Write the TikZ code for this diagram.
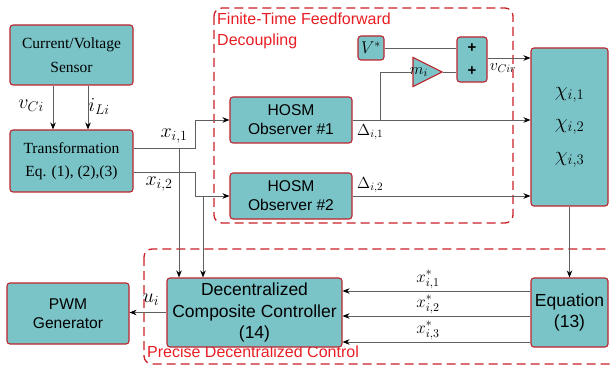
\RequirePackage{fix-cm}
\documentclass[tikz,border=0pt]{standalone}
\usepackage{amsmath, amssymb}
\usepackage{fontspec}
\setmainfont{Liberation Serif}
\setsansfont{Liberation Sans}
\usepackage{tikz}
\usetikzlibrary{shapes.geometric}
\usetikzlibrary{arrows.meta}

\definecolor{boxfill}{RGB}{122,196,200}
\definecolor{boxline}{RGB}{190,35,45}
\definecolor{framered}{RGB}{200,30,40}
\definecolor{textred}{RGB}{232,30,36}
\definecolor{wirecol}{RGB}{95,95,95}

\begin{document}
\begin{tikzpicture}[x=1pt, y=-1pt,
    blk/.style={draw=boxline, fill=boxfill, line width=1.1pt, rounded corners=3pt, inner sep=0pt, align=center},
    sf/.style={font=\sffamily\fontsize{15.6}{19}\selectfont},
    sfbig/.style={font=\sffamily\fontsize{17.5}{21.5}\selectfont},
    rm/.style={font=\fontsize{15.5}{23.5}\selectfont},
    wire/.style={draw=wirecol, line width=0.8pt},
    arr/.style={wire, -{Stealth[black, length=7pt, width=5.5pt]}},
    frame/.style={draw=framered, line width=1.3pt, dash pattern=on 9pt off 5pt, rounded corners=8pt},
    redtxt/.style={text=textred, font=\sffamily\fontsize{16}{21}\selectfont, inner sep=0pt, anchor=north west, align=left},
    lbl/.style={inner sep=0pt, font=\fontsize{20}{22}\selectfont},
    lblsm/.style={inner sep=0pt, font=\fontsize{16}{18}\selectfont},
    lblst/.style={inner sep=0pt, anchor=south, font=\fontsize{17}{19}\selectfont}]

    \clip (0,0) rectangle (610,366);

    % dashed groups
    \draw[frame] (214,8) rectangle (513,223);
    \draw[frame] (144,249) rectangle (640,364);
    \node[redtxt]  (tFF) at (217,13)   {Finite-Time Feedforward\\Decoupling};
    \node[redtxt]  (tPD) at (147,346)  {Precise Decentralized Control};

    \node[blk, rm, minimum width=123pt, minimum height=60pt]  (sensor) at (71.5, 55)   {Current/Voltage\\Sensor};
    \node[blk, rm, minimum width=123pt, minimum height=62pt]  (trans)  at (71.5, 161)  {Transformation\\Eq. (1), (2),(3)};
    \node[blk, sf, minimum width=122pt, minimum height=46pt]  (hosmA)  at (291, 120)   {HOSM\\Observer \#1};
    \node[blk, sf, minimum width=122pt, minimum height=46pt]  (hosmB)  at (291, 196)   {HOSM\\Observer \#2};
    \node[blk, font=\fontsize{17}{19}\selectfont, minimum width=26pt, minimum height=24pt]  (vstar)  at (371, 48)    {$V^{*}$};
    \node[draw=boxline, fill=boxfill, line width=1.1pt, isosceles triangle, isosceles triangle stretches,
          minimum width=29pt, minimum height=29pt, inner sep=0pt] (gain) at (422, 72) {};
    \node[lblsm]  (gainTxt) at (419, 72) {$m_i$};
    \node[blk, font=\sffamily\bfseries\fontsize{15}{23}\selectfont, minimum width=30pt, minimum height=45pt]  (sum) at (472, 59.5) {+\\+};
    \node[blk, font=\fontsize{21}{32.5}\selectfont, minimum width=77pt, minimum height=158pt]  (chi) at (569.5, 127) {$\chi_{i,1}$\\$\chi_{i,2}$\\$\chi_{i,3}$};
    \node[blk, sfbig, minimum width=77pt, minimum height=69pt]   (eqn)  at (569.5, 312.5) {Equation\\(13)};
    \node[blk, sfbig, minimum width=175pt, minimum height=69pt]  (ctrl) at (254.5, 312.5) {Decentralized\\Composite Controller\\(14)};
    \node[blk, sf, minimum width=122pt, minimum height=61pt]     (pwm)  at (68, 313.5)    {PWM\\Generator};

    \coordinate (tapA) at (179, 148);
    \coordinate (tapB) at (203, 197);
    \coordinate (tapC) at (380, 120);

    \draw[arr] ([xshift=-18.5pt]sensor.south) -- ([xshift=-18.5pt]trans.north);
    \draw[arr] ([xshift=16.5pt]sensor.south) -- ([xshift=16.5pt]trans.north);
    \draw[arr] ([yshift=13pt]trans.east) -- ++(62,0) |- (hosmA.west);
    \draw[arr] ([yshift=-11pt]trans.east) -- ++(62,0) |- (hosmB.west);
    \draw[arr] (tapA) -- (tapA |- ctrl.north);
    \draw[arr] (tapB) -- (tapB |- ctrl.north);
    \draw[arr] (hosmA.east) -- (hosmA.east -| chi.west);
    \draw[wire] (tapC) |- (gain.west);
    \draw[wire] (gain.east) -- (gain.east -| sum.west);
    \draw[wire] (vstar.east) -- (vstar.east -| sum.west);
    \draw[arr] ([yshift=1.5pt]sum.east) -- ([yshift=1.5pt]sum.east -| chi.west);
    \draw[arr] (hosmB.east) -- (hosmB.east -| chi.west);
    \draw[arr] (chi.south) -- (eqn.north);
    \draw[arr] ([yshift=21.5pt]eqn.west) -- ([yshift=21.5pt]ctrl.east);
    \draw[arr] ([yshift=-3.5pt]eqn.west) -- ([yshift=-3.5pt]ctrl.east);
    \draw[arr] ([yshift=-29.5pt]eqn.west) -- ([yshift=-29.5pt]ctrl.east);
    \draw[arr] (ctrl.west) -- (ctrl.west -| pwm.east);

    \node[lbl]  (lvC)   at (31, 106)   {$v_{Ci}$};
    \node[lbl]  (liL)   at (99, 106)   {$i_{Li}$};
    \node[lbl]  (lxA)   at (174, 136)  {$x_{i,1}$};
    \node[lbl]  (lxB)   at (159, 184)  {$x_{i,2}$};
    \node[lblsm, anchor=north west]  (ldA)  at (357, 124)  {$\Delta_{i,1}$};
    \node[lblsm, anchor=south west]  (ldB)  at (357, 193)  {$\Delta_{i,2}$};
    \node[lblsm]  (lvCir) at (503, 68)   {$v_{Cir}$};
    \node[lbl]  (lu)    at (151, 300)  {$u_i$};
    \node[lblst]  (lsA)  at (428, 289)  {$x^{*}_{i,1}$};
    \node[lblst]  (lsB)  at (428, 314)  {$x^{*}_{i,2}$};
    \node[lblst]  (lsC)  at (428, 340)  {$x^{*}_{i,3}$};
\end{tikzpicture}
\end{document}
